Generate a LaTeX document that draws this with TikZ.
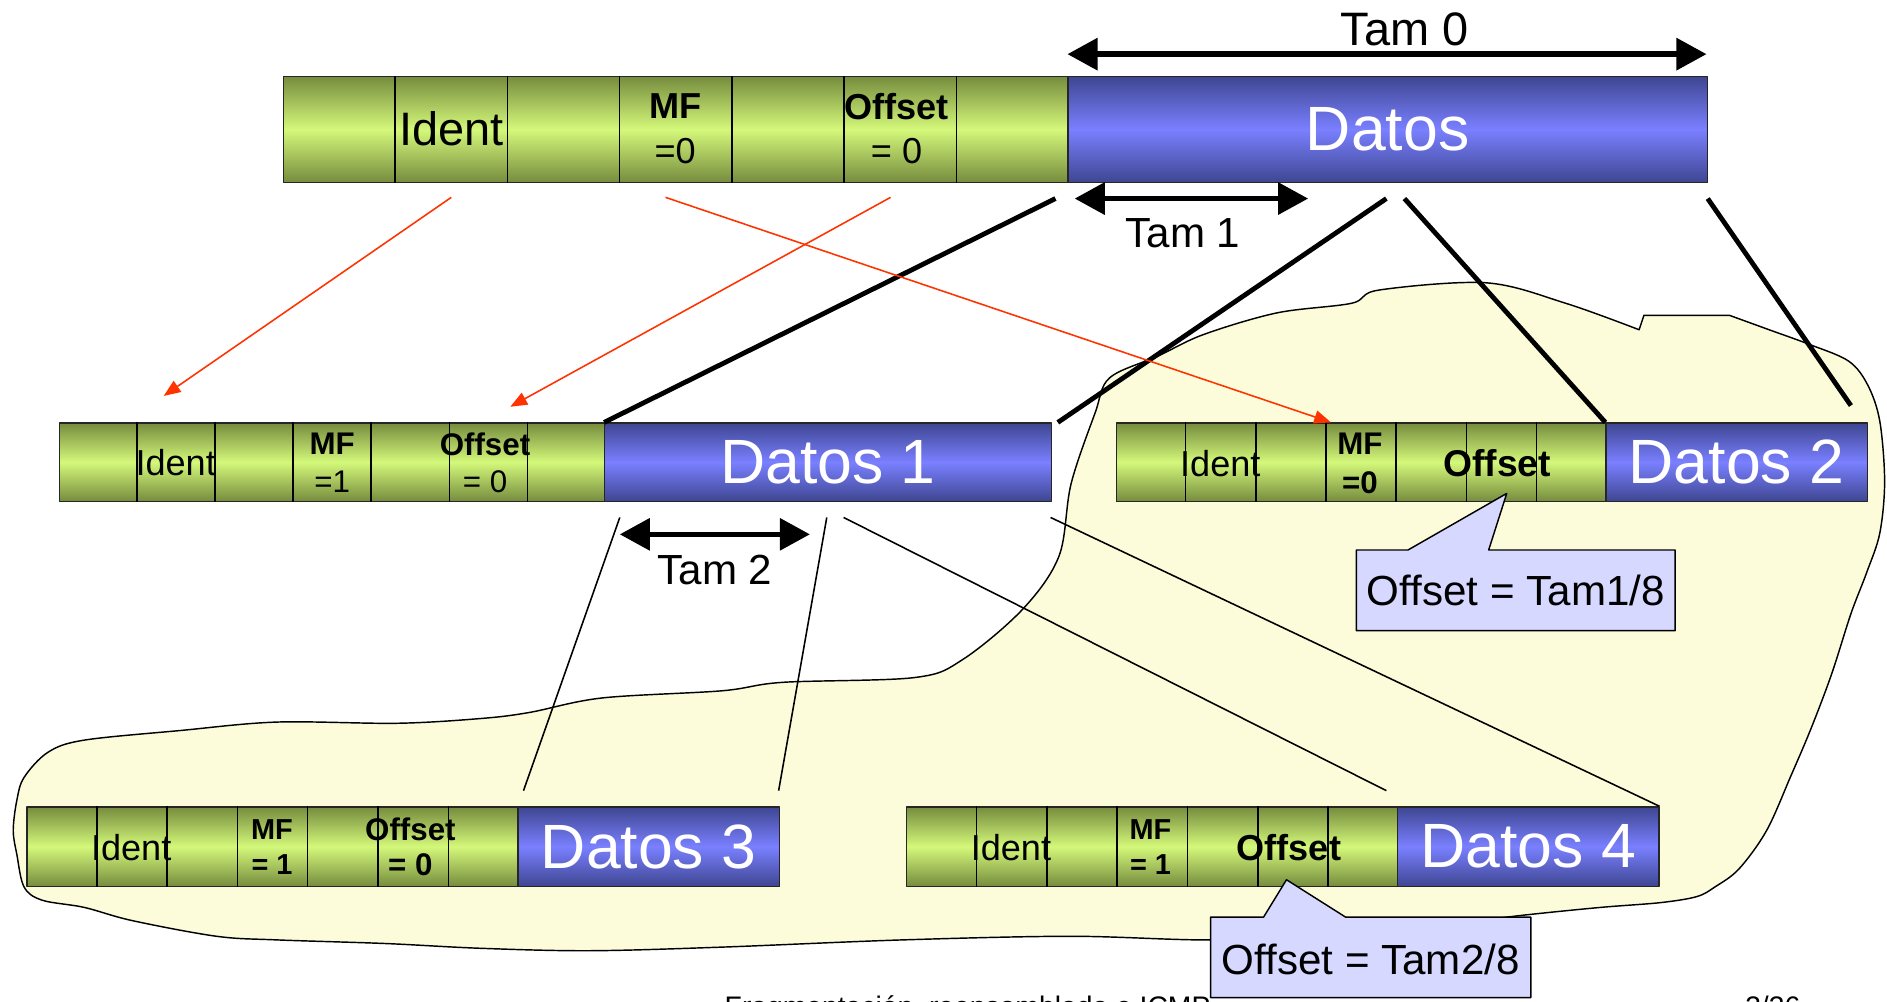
\documentclass[tikz,border=0pt]{standalone}
\usepackage{fontspec}
\setmainfont{Liberation Sans}
\usetikzlibrary{arrows.meta,calc}
\definecolor{verdeosc}{RGB}{118,140,62}
\definecolor{verdecl}{RGB}{212,248,122}
\definecolor{azulosc}{RGB}{62,70,145}
\definecolor{azulcl}{RGB}{122,128,255}
\definecolor{nubecol}{RGB}{252,252,218}
\definecolor{globocol}{RGB}{214,216,255}
\definecolor{rojo}{RGB}{255,51,0}
\newcommand{\fuente}[2]{\fontsize{#1}{#2}\selectfont}
\tikzset{
  cab/.style={draw=black!85, line width=1pt, anchor=north west, inner sep=0pt,
    top color=verdeosc, bottom color=verdeosc, middle color=verdecl},
  dat/.style={draw=black!85, line width=1pt, anchor=north west, inner sep=0pt,
    top color=azulosc, bottom color=azulosc, middle color=azulcl,
    text=white, font=\fuente{52}{52}},
  tx/.style={inner sep=0pt, align=center},
  div/.style={line width=1.2pt},
  grueso/.style={line width=4pt},
  fino/.style={line width=1.3pt},
  flecha/.style={rojo, line width=1.3pt, -{Triangle[length=14pt,width=11pt]}},
  tam/.style={line width=4.5pt, {Triangle[length=25pt,width=26pt]}-{Triangle[length=25pt,width=26pt]}},
  globo/.style={fill=globocol, draw, line width=1.2pt},
  nube/.style={fill=nubecol, draw, line width=1.2pt},
}
\begin{document}
\begin{tikzpicture}[x=1pt, y=-1pt, line join=round]
\useasboundingbox (0,0) rectangle (1568,832);
\clip (0,0) rectangle (1568,832);
% zona de los fragmentos
\draw[nube] (1366,262) -- plot[smooth, tension=0.55] coordinates {(1437,262) (1470,274) (1503,286) (1536,300)
  (1552,320) (1562,350) (1566,400) (1562,443) (1551,476) (1538,510) (1522,560) (1505,605) (1488,645)
  (1468,690) (1445,722) (1425,737) (1410,745) (1380,750) (1330,754) (1270,760) (1200,768) (1100,776)
  (1006,781) (890,778) (750,781) (600,787) (490,790) (400,788) (320,784) (230,781) (180,778) (110,765)
  (70,754) (35,748) (20,737) (14,710) (11,690) (14,665) (20,646) (40,625) (70,615) (150,607) (230,600)
  (330,601) (400,597) (440,592) (500,580) (600,574) (650,567) (760,563) (800,548) (850,506) (880,462)
  (890,402) (910,343) (922,314) (962,296) (1000,278) (1061,260) (1123,252) (1146,241) (1235,235)
  (1301,252) (1362,274)} -- cycle;
% paquetes
\node[cab, minimum width=652pt, minimum height=88pt] (cab0) at (235,63) {};
\node[dat, minimum width=531pt, minimum height=88pt] (dat0) at (887,63) {Datos};
\node[cab, minimum width=453pt, minimum height=65pt] (cab1) at (49,351) {};
\node[dat, minimum width=371pt, minimum height=65pt] (dat1) at (502,351) {Datos 1};
\node[cab, minimum width=407pt, minimum height=65pt] (cab2) at (927,351) {};
\node[dat, minimum width=217pt, minimum height=65pt] (dat2) at (1334,351) {Datos 2};
\node[cab, minimum width=408pt, minimum height=66pt] (cab3) at (22,670) {};
\node[dat, minimum width=217pt, minimum height=66pt] (dat3) at (430,670) {Datos 3};
\node[cab, minimum width=408pt, minimum height=66pt] (cab4) at (753,670) {};
\node[dat, minimum width=217pt, minimum height=66pt] (dat4) at (1161,670) {Datos 4};
\foreach \n in {0,...,4}
  \foreach \i in {1,...,6}
    \draw[div] ($(cab\n.north west)!\i/7!(cab\n.north east)$) -- ($(cab\n.south west)!\i/7!(cab\n.south east)$);
% campos
\node[tx, font=\fuente{39}{39}] (id0) at (375,107) {Ident};
\node[tx, font=\fuente{30}{37}] (mf0) at (561,107) {\textbf{MF}\\=0};
\node[tx, font=\fuente{30}{37}] (of0) at (745,107) {\textbf{Offset}\\= 0};
\node[tx, font=\fuente{30}{30}] (id1) at (146,384) {Ident};
\node[tx, font=\fuente{26}{31}] (mf1) at (276,384.5) {\textbf{MF}\\=1};
\node[tx, font=\fuente{26}{31}] (of1) at (403,384.5) {\textbf{Offset}\\= 0};
\node[tx, font=\fuente{30}{30}] (id2) at (1014,385) {Ident};
\node[tx, font=\bfseries\fuente{26}{32}] (mf2) at (1130,385) {MF\\=0};
\node[tx, font=\bfseries\fuente{31}{31}] (of2) at (1244,385) {Offset};
\node[tx, font=\fuente{30}{30}] (id3) at (109,704) {Ident};
\node[tx, font=\bfseries\fuente{24}{29}] (mf3) at (226,703.5) {MF\\= 1};
\node[tx, font=\bfseries\fuente{26}{29}] (of3) at (341,703.5) {Offset\\= 0};
\node[tx, font=\fuente{30}{30}] (id4) at (840,704) {Ident};
\node[tx, font=\bfseries\fuente{24}{29}] (mf4) at (956,703.5) {MF\\= 1};
\node[tx, font=\bfseries\fuente{30}{30}] (of4) at (1071,704) {Offset};
% lineas de division de los datos
\coordinate (g1) at (877,165); \coordinate (g2) at (1152,165);
\coordinate (g3) at (1167,165); \coordinate (g4) at (1419,165);
\coordinate (g2b) at (879,351); \coordinate (g4b) at (1538,337);
\draw[grueso] (g1) -- (dat1.north west);
\draw[grueso] (g2) -- (g2b);
\draw[grueso] (g3) -- (dat2.north west);
\draw[grueso] (g4) -- (g4b);
\coordinate (h1) at (515,430); \coordinate (h2) at (687,430);
\coordinate (h3) at (701,430); \coordinate (h4) at (873,430);
\coordinate (h1b) at (435,657); \coordinate (h2b) at (647,657);
\coordinate (h3b) at (1152,657);
\draw[fino] (h1) -- (h1b);
\draw[fino] (h2) -- (h2b);
\draw[fino] (h3) -- (h3b);
\draw[fino] (h4) -- (dat4.north east);
% copia de campos
\coordinate (r1) at (375,164); \coordinate (r1b) at (136,329);
\coordinate (r2) at (740,164); \coordinate (r2b) at (424,338);
\coordinate (r3) at (553,164); \coordinate (r3b) at (1106,351);
\draw[flecha] (r1) -- (r1b);
\draw[flecha] (r2) -- (r2b);
\draw[flecha] (r3) -- (r3b);
% tamanos
\coordinate (t0a) at (887,45); \coordinate (t0b) at (1418,45);
\coordinate (t1a) at (893,165); \coordinate (t1b) at (1087,165);
\coordinate (t2a) at (515,444); \coordinate (t2b) at (673,444);
\draw[tam] (t0a) -- (t0b);
\draw[tam] (t1a) -- (t1b);
\draw[tam] (t2a) -- (t2b);
\node[tx, font=\fuente{39}{39}, anchor=base] (tam0) at (1167,38) {Tam 0};
\node[tx, font=\fuente{35}{35}, anchor=base] (tam1) at (983,206) {Tam 1};
\node[tx, font=\fuente{35}{35}, anchor=base] (tam2) at (594,486) {Tam 2};
% pie
\node[tx, font=\fuente{23.5}{23.5}, anchor=base west] (pie) at (602,845) {Fragmentación, reensamblado e ICMP};
\node[tx, font=\fuente{23.5}{23.5}, anchor=base west] (pag) at (1450,845) {3/36};
% globos
\draw[globo] (1127,457) -- (1170,457) -- (1252,410) -- (1237,457) -- (1392,457) -- (1392,524) -- (1127,524) -- cycle;
\node[tx, font=\fuente{35}{35}] (c1) at (1259.5,491) {Offset = Tam1/8};
\draw[globo] (1006,762) -- (1050,762) -- (1069,731) -- (1118,762) -- (1272,762) -- (1272,829) -- (1006,829) -- cycle;
\node[tx, font=\fuente{35}{35}] (c2) at (1139,797) {Offset = Tam2/8};
\end{tikzpicture}
\end{document}
